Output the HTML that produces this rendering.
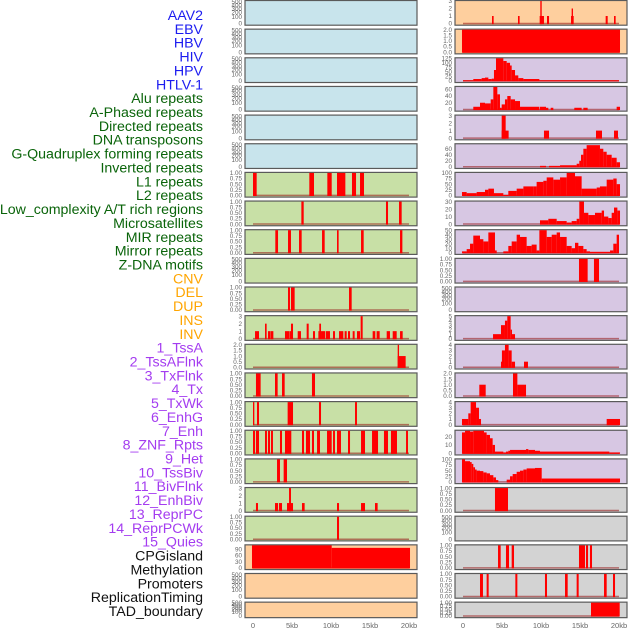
<!DOCTYPE html>
<html><head><meta charset="utf-8">
<style>
html,body{margin:0;padding:0;background:#fff;}
body{width:630px;height:630px;overflow:hidden;position:relative;font-family:"Liberation Sans",sans-serif;}
svg{position:absolute;left:0;top:0;}
</style></head>
<body>
<svg id="fig" width="630" height="630" viewBox="0 0 630 630"></svg>
<script>
// ---- track labels ----
const trackLabels = ["AAV2","EBV","HBV","HIV","HPV","HTLV-1","Alu repeats","A-Phased repeats","Directed repeats","DNA transposons","G-Quadruplex forming repeats","Inverted repeats","L1 repeats","L2 repeats","Low_complexity A/T rich regions","Microsatellites","MIR repeats","Mirror repeats","Z-DNA motifs","CNV","DEL","DUP","INS","INV","1_TssA","2_TssAFlnk","3_TxFlnk","4_Tx","5_TxWk","6_EnhG","7_Enh","8_ZNF_Rpts","9_Het","10_TssBiv","11_BivFlnk","12_EnhBiv","13_ReprPC","14_ReprPCWk","15_Quies","CPGisland","Methylation","Promoters","ReplicationTiming","TAD_boundary"];
const labelGroups = ["v","v","v","v","v","v","r","r","r","r","r","r","r","r","r","r","r","r","r","s","s","s","s","s","c","c","c","c","c","c","c","c","c","c","c","c","c","c","c","k","k","k","k","k"];
const xTickValues = [0,5,10,15,20];
const xTickLabels = ["0","5kb","10kb","15kb","20kb"];
// ---- per-panel y-limits ----
const panelYMax = [500,500,500,500,500,500,1,1,1,500,1,3,2,1,1,1,1,3,1,108,500,500,
                   3,2,125,67,3,75,100,30,50,1,500,5,4,2,4,27,100,1,500,1,1,1];
// ---- segments [startKb,endKb,value] ----
const seg_Alu = [[0,0.47,1],[7.22,7.82,1],[9.53,10.09,1],[10.77,11.84,1],[12.69,13.21,1],[13.72,14.23,1]];
const seg_APhased = [[6.20,6.50,1],[17.05,17.31,1],[18.72,19.06,1]];
const seg_Directed = [[2.86,3.21,1],[4.49,4.87,1],[5.90,6.24,1],[8.85,9.19,1],[10.77,10.98,1],[13.85,14.19,1],[18.85,19.15,1]];
const seg_GQuad = [[4.49,4.74,1],[4.87,5.34,1],[12.31,12.65,1]];
const seg_Inverted = [[0.26,0.77,1],[1.54,1.75,2],[1.92,2.22,1],[2.26,2.61,1],[4.10,4.62,1],[4.66,4.87,1],[4.87,5.13,2],[5.73,6.15,1],[6.88,7.14,2],[7.69,7.95,1],[8.38,8.63,1],[8.50,8.72,2],[8.72,9.27,1],[9.36,9.87,1],[10.26,10.51,1],[11.03,11.58,1],[11.75,12.01,1],[12.18,12.44,1],[12.78,13.03,1],[13.33,13.72,1],[13.80,14.06,3],[15.34,15.68,1],[15.85,16.24,1],[17.14,17.56,1],[17.91,18.42,1],[18.85,19.19,1]];
const seg_L1 = [[18.55,19.57,1],[18.55,18.72,2]];
const seg_L2 = [[0.38,0.98,1],[2.82,3.16,1],[3.72,4.06,1],[7.56,7.95,1]];
const seg_LowCx = [[0,0.17,1],[0.51,0.77,1],[4.44,5.13,1],[8.46,8.72,1],[13.08,13.33,1]];
const seg_Micro = [[0,0.26,1],[0.38,0.77,1],[1.54,1.79,1],[1.92,2.18,1],[2.31,2.56,1],[3.46,3.72,1],[4.10,4.36,1],[4.36,4.91,1],[6.28,6.54,1],[6.79,7.31,1],[7.56,7.82,1],[8.21,8.59,1],[9.49,10.09,1],[10.26,10.51,1],[10.77,11.28,1],[12.18,12.44,1],[13.85,14.36,1],[15.26,16.03,1],[16.79,17.31,1],[17.69,17.95,1],[17.95,18.46,1],[19.62,19.87,1]];
const seg_MIR = [[3.08,3.46,1],[3.93,4.36,1]];
const seg_Mirror = [[0.38,0.64,1],[2.82,3.21,1],[3.33,3.72,1],[4.36,5.13,1],[4.62,4.87,3],[6.28,6.62,1],[10.77,11.03,1],[13.85,14.36,1],[15.64,15.98,1]];
const seg_ZDNA = [[10.77,11.03,1]];
const seg_CNV = [[-0.13,10.09,108],[10.09,20.13,96]];
const seg_INS = [[3.72,3.93,1],[7.05,7.26,1],[9.83,10.13,1],[9.91,10.09,3],[10.13,10.38,1],[10.77,11.03,1],[13.85,14.19,1],[13.93,14.10,2],[18.29,18.55,1],[19.36,19.57,1]];
const seg_INV = [[-0.13,20.13,2]];
const seg_TssA = [[0,1.32,3],[1.32,2.39,10],[2.39,2.82,15],[2.82,3.25,18],[3.25,3.68,10],[3.68,3.97,12],[3.97,4.23,60],[4.23,5.17,125],[5.17,5.60,110],[5.60,6.03,100],[6.03,6.24,85],[6.24,6.67,60],[6.67,7.09,30],[7.09,7.74,15],[7.74,9.79,10],[9.79,20,3]];
const seg_TssAFlnk = [[1.32,2.18,8],[2.18,2.82,20],[2.82,3.55,18],[3.55,3.89,30],[3.89,4.40,67],[4.40,4.74,45],[4.74,4.96,5],[4.96,5.38,15],[5.38,5.68,30],[5.68,6.11,40],[6.11,6.67,30],[6.67,7.31,25],[7.31,9.79,8],[9.87,10.64,8],[10.64,10.94,5],[11.24,11.58,5],[14.27,15.21,5],[15.43,15.98,5],[19.70,20.13,8]];
const seg_TxFlnk = [[4.96,5.85,1],[4.96,5.47,3],[10.38,11.03,1],[17.05,17.82,1],[19.36,19.87,1]];
const seg_Tx = [[9.87,10.64,3],[11.03,12.44,3],[12.44,13.72,5],[13.72,14.57,5],[14.57,14.91,10],[14.91,15.13,20],[15.13,15.43,40],[15.43,15.85,60],[15.85,17.56,72],[17.56,17.99,60],[17.99,18.42,50],[18.42,19.06,40],[19.06,19.70,30],[19.70,20.13,15]];
const seg_TxWk = [[-0.13,0.47,15],[0.47,1.75,10],[1.75,2.82,15],[2.82,3.25,25],[3.25,3.97,30],[3.97,5.17,10],[5.17,5.81,2],[5.81,6.88,20],[6.88,7.74,30],[7.74,9.02,40],[9.02,9.44,40],[9.44,10.30,60],[10.30,10.73,65],[10.73,11.58,80],[11.58,12.44,70],[12.44,13.29,80],[13.29,14.36,100],[14.36,15.21,85],[15.21,17.14,30],[17.14,17.56,35],[17.56,18.42,40],[18.42,19.27,70],[19.27,19.70,75],[19.70,20.13,50]];
const seg_EnhG = [[9.87,10.94,5],[10.94,12.01,7],[12.01,13.29,4],[13.29,13.93,2],[13.93,14.57,4],[14.57,14.91,7],[14.91,15.51,30],[15.51,16.07,15],[16.07,16.92,12],[16.92,17.78,15],[17.78,18.08,18],[18.08,18.63,10],[18.63,19.06,8],[19.06,19.36,15],[19.36,19.79,22],[19.79,20.13,18]];
const seg_Enh = [[-0.13,0.47,3],[0.47,0.90,8],[0.90,1.32,20],[1.32,2.18,38],[2.18,2.61,30],[2.61,3.25,25],[3.25,4.10,45],[4.10,4.32,5],[5.17,5.81,3],[5.81,6.24,15],[6.24,6.88,25],[6.88,7.31,40],[7.31,8.16,35],[8.16,8.80,15],[8.80,9.44,18],[9.44,9.79,5],[9.79,10.73,50],[10.73,11.37,35],[11.37,12.01,40],[12.01,12.44,45],[12.44,13.29,35],[13.29,13.93,15],[13.93,14.36,10],[14.36,14.79,22],[14.79,15.43,15],[15.43,15.85,8],[15.85,16.28,3],[16.28,18.85,2],[18.85,19.27,5],[19.27,19.70,20],[19.70,20.0,40]];
const seg_ZNF = [[14.87,15.98,1],[16.79,17.44,1]];
const seg_TssBiv = [[3.85,4.87,1],[4.87,5.38,3],[5.38,5.68,4],[5.68,6.11,5],[6.11,6.28,2],[6.28,6.67,1]];
const seg_BivFlnk = [[4.87,4.99,1],[4.99,5.38,3],[5.38,5.85,4],[5.85,6.24,3],[6.24,6.67,1],[7.82,8.33,1]];
const seg_EnhBiv = [[2.09,2.91,1],[6.41,6.97,2],[6.97,8.08,1]];
const seg_ReprPC = [[-0.13,0.68,1],[0.68,0.98,2],[0.98,1.67,4],[1.67,2.05,3],[2.05,2.31,1],[18.42,20.13,1]];
const seg_ReprPCWk = [[-0.13,0.26,25],[0.26,0.90,27],[0.90,1.32,26],[1.32,2.69,27],[2.69,3.03,25],[3.03,3.46,22],[3.46,3.80,18],[3.80,4.10,10],[4.10,5.17,2],[5.17,5.51,1],[5.51,5.81,2],[5.81,6.03,3],[6.03,8.08,4],[8.08,8.38,5],[8.38,9.23,4],[9.23,9.87,3],[9.87,18.76,2],[18.76,20.13,1]];
const seg_Quies = [[-0.13,0.26,100],[0.26,0.90,92],[0.90,1.11,88],[1.11,1.32,80],[1.32,1.54,65],[1.54,1.75,55],[1.75,2.18,50],[2.18,2.61,48],[2.61,3.03,42],[3.03,3.46,38],[3.46,3.89,30],[3.89,4.23,20],[4.23,4.53,8],[5.60,6.03,10],[6.03,6.37,25],[6.37,6.88,35],[6.88,7.31,45],[7.31,7.74,50],[7.74,8.16,55],[8.16,9.23,60],[9.23,10.09,62],[10.09,20.13,15]];
const seg_CPG = [[4.10,5.77,1]];
const seg_Promoters = [[4.49,4.83,1],[5.51,5.90,1],[6.24,6.54,1],[14.87,15.64,1],[15.77,16.03,1],[16.28,16.54,1]];
const seg_RepTiming = [[2.18,2.56,1],[3.03,3.29,1],[6.71,6.97,1],[10.51,10.77,1],[13.08,13.42,1],[14.57,14.83,1],[18.08,18.42,1],[19.23,19.49,1]];
const seg_TAD = [[16.41,20.09,1]];
const panelSegments = [null,null,null,null,null,null,seg_Alu,seg_APhased,seg_Directed,null,seg_GQuad,seg_Inverted,seg_L1,seg_L2,seg_LowCx,seg_Micro,seg_MIR,seg_Mirror,seg_ZDNA,seg_CNV,null,null,
  seg_INS,seg_INV,seg_TssA,seg_TssAFlnk,seg_TxFlnk,seg_Tx,seg_TxWk,seg_EnhG,seg_Enh,seg_ZNF,null,seg_TssBiv,seg_BivFlnk,seg_EnhBiv,seg_ReprPC,seg_ReprPCWk,seg_Quies,seg_CPG,null,seg_Promoters,seg_RepTiming,seg_TAD];
// ---- tick label sets ----
const ticksUnit = ["0.00","0.25","0.50","0.75","1.00"];
const ticksUnitVals = [0,0.25,0.5,0.75,1];
const ticksTwo = ["0.0","0.5","1.0","1.5","2.0"];
const ticksTwoVals = [0,0.5,1,1.5,2];
const ticksBig = ["0","100","200","300","400","500"];

const NS="http://www.w3.org/2000/svg";
const svg=document.getElementById('fig');
function mk(tag,attrs,parent){const e=document.createElementNS(NS,tag);for(const k in attrs)e.setAttribute(k,attrs[k]);(parent||svg).appendChild(e);return e;}
const groupColor={v:"#1c1cf0",r:"#0a640a",s:"#ffa500",c:"#a43cf0",k:"#111111"};
// labels
trackLabels.forEach((t,i)=>{
  const e=mk('text',{x:203,y:20+i*13.86,'text-anchor':'end','font-size':'14.2',fill:groupColor[labelGroups[i]],'font-family':'Liberation Sans, sans-serif'});
  e.textContent=t;
  
  
});
function bgColor(i){
  if(i<6) return "#c8e4ec";
  if(i<19) return "#c8e0a6";
  if(i<24) return "#fecf9e";
  if(i<39) return "#d7c7e3";
  return "#d3d3d3";
}
function tickSet(i){
  const ym=panelYMax[i];
  if(ym===1) return {vals:ticksUnitVals,labs:ticksUnit};
  if(ym===2) return {vals:ticksTwoVals,labs:ticksTwo};
  if(ym===500) return {vals:null,labs:ticksBig};
  if(ym===3) return {vals:[0,1,2,3],labs:["0","1","2","3"]};
  if(ym===4) return {vals:[0,1,2,3,4],labs:["0","1","2","3","4"]};
  if(ym===5) return {vals:[0,1,2,3,4,5],labs:["0","1","2","3","4","5"]};
  if(ym===125) return {vals:[0,25,50,75,100,125],labs:["0","25","50","75","100","125"]};
  if(ym===100) return {vals:[0,25,50,75,100],labs:["0","25","50","75","100"]};
  if(ym===75) return {vals:[0,20,40,60],labs:["0","20","40","60"]};
  if(ym===67) return {vals:[0,20,40,60],labs:["0","20","40","60"]};
  if(ym===30) return {vals:[0,10,20,30],labs:["0","10","20","30"]};
  if(ym===50) return {vals:[0,10,20,30,40,50],labs:["0","10","20","30","40","50"]};
  if(ym===27) return {vals:[0,10,20],labs:["0","10","20"]};
  if(ym===108) return {vals:[0,30,60,90],labs:["0","30","60","90"]};
  return {vals:[0],labs:["0"]};
}
const bigFrac=[0,0.3,0.5,0.65,0.82,0.97];
for(let i=0;i<44;i++){
  const col=i<22?0:1, row=i%22;
  const px=col?455:245, pw=172;
  const top=row*28.65;
  const h=row===21?15.5:24.7;
  const y0=top+h-1.2, y1=top+1;
  const g=mk('g',{});
  
  
  const r=mk('rect',{x:px,y:top+0.5,width:pw,height:h,fill:bgColor(i),stroke:'#5a5a5a','stroke-width':'1.2'},g);
  
  
  const ym=panelYMax[i];
  const xs=k=>(col?463:253)+k*7.8;
  const ys=v=>y0-(Math.min(v,ym)/ym)*(y0-y1);
  // ticks
  const ts=tickSet(i);
  ts.labs.forEach((lab,j)=>{
    const ty = ts.vals? ys(ts.vals[j]) : y0-bigFrac[j]*(y0-y1);
    const t=mk('text',{x:px-3,y:ty+2.2,'text-anchor':'end','font-size':'6.3',fill:'#666'},g);
    t.textContent=lab;
    
    
  });
  const segs=panelSegments[i];
  if(segs){
    const bl=mk('line',{x1:xs(0),x2:xs(20),y1:y0,y2:y0,stroke:'rgba(150,20,20,0.55)','stroke-width':'1.5'},g);
    
    
    segs.forEach(s=>{
      const a=Math.max(xs(s[0]),px+1), b=Math.min(xs(s[1]),px+pw-1);
      const yt=ys(s[2]);
      const bar=mk('rect',{x:a,y:yt,width:Math.max(b-a,1),height:Math.max(y0-yt+0.6,0),fill:'#ff0000'},g);
      
      
    });
  }
}
// x axis labels
[0,1].forEach(col=>{
  xTickValues.forEach((v,j)=>{
    const t=mk('text',{x:(col?463:253)+v*7.8,y:628,'text-anchor':'middle','font-size':'7.5',fill:'#666'});
    t.textContent=xTickLabels[j];
    
    
  });
});
</script>
</body></html>
